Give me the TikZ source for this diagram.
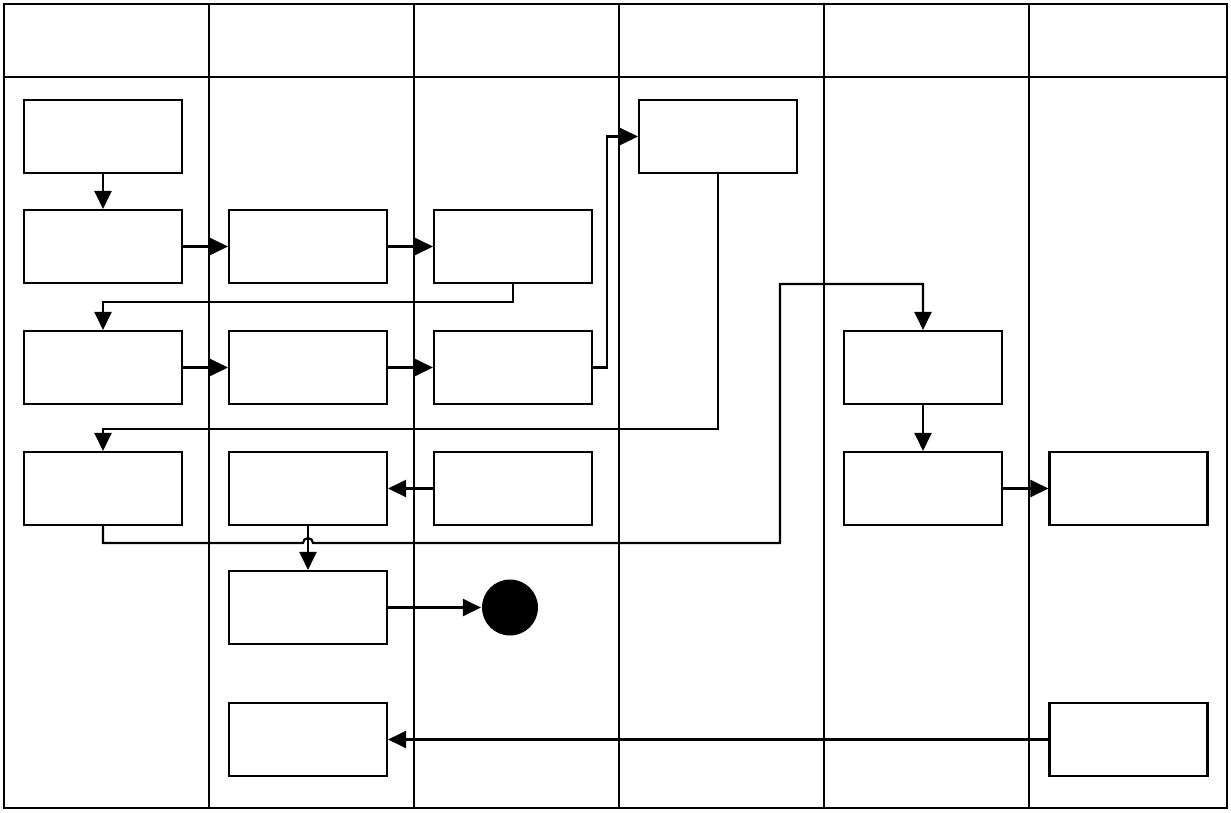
\documentclass[tikz,border=0pt]{standalone}
\usepackage{xcolor}
\usepackage{tikz}
\usetikzlibrary{arrows.meta}

\begin{document}
\begin{tikzpicture}[x=0.02cm,y=-0.02cm,line width=1.2pt,
box/.style={draw,rectangle,minimum width=3.16cm,minimum height=1.46cm,inner sep=0pt},
flow/.style={-{Triangle[length=0.36cm,width=0.34cm]}}]
\useasboundingbox (0,0) rectangle (1231,812);
\draw (4,4) rectangle (1227,808);
\draw (4,77)--(1227,77);
\foreach \x in {209,414,619,824,1029} \draw (\x,4)--(\x,808);
\node[box] (A1) at (103,136.5) {};
\node[box] (A2) at (103,246.5) {};
\node[box] (A3) at (103,367.5) {};
\node[box] (A4) at (103,488.5) {};
\node[box] (B2) at (308,246.5) {};
\node[box] (B3) at (308,367.5) {};
\node[box] (B4) at (308,488.5) {};
\node[box] (B5) at (308,607.5) {};
\node[box] (B6) at (308,739.5) {};
\node[box] (C2) at (513,246.5) {};
\node[box] (C3) at (513,367.5) {};
\node[box] (C4) at (513,488.5) {};
\node[box] (D1) at (718,136.5) {};
\node[box] (E3) at (923,367.5) {};
\node[box] (E4) at (923,488.5) {};
\node[box] (F4) at (1128.5,488.5) {};
\node[box] (F6) at (1128.5,739.5) {};
\node[circle,fill=black,minimum size=1.12cm,inner sep=0pt] (end) at (510,607.5) {};
\coordinate (jump) at (308,543);
\coordinate (turn) at (780,284);
\draw[flow] (A1)--(A2);
\draw[flow] (A2)--(B2);
\draw[flow] (B2)--(C2);
\draw[flow] (C2.south)--++(0,18) -| (A3.north);
\draw[flow] (A3)--(B3);
\draw[flow] (B3)--(C3);
\draw[flow] (C3.east)--++(14,0) |- (D1.west);
\draw[flow] (D1.south)--++(0,255) -| (A4.north);
\draw[flow] (C4)--(B4);
\draw[flow] (A4.south) |- ([xshift=-0.1cm]jump) arc[start angle=180,end angle=0,radius=0.1cm] -| (turn) -| (E3.north);
\draw[flow] (B4)--(B5);
\draw[flow] (B5)--(end);
\draw[flow] (E3)--(E4);
\draw[flow] (E4)--(F4);
\draw[flow] (F6)--(B6);
\end{tikzpicture}
\end{document}
